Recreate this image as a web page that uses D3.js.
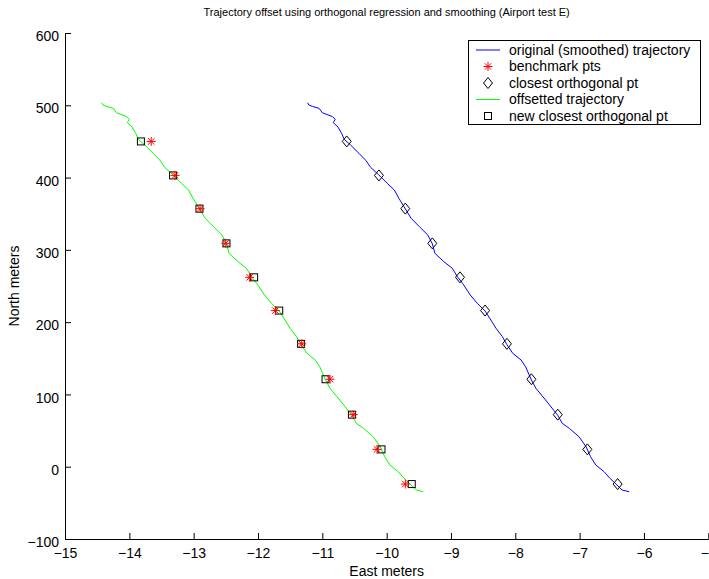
<!DOCTYPE html>
<html>
<head>
<meta charset="utf-8">
<script src="https://cdn.jsdelivr.net/npm/d3@7"></script>
<style>
  body { margin: 0; background: #fff; }
  svg text { font-family: "Liberation Sans", Arial, Helvetica, sans-serif; }
</style>
</head>
<body>
<div id="chart"></div>
<script>
// trajectory northing (shared by both trajectories)
const trajNorth = [503.5, 500.4, 498.3, 495.8, 489.7, 484.2, 480.6, 475.9, 470.3, 461.2,
  452.9, 445.0, 433.5, 423.3, 414.2, 403.5, 392.0, 382.8, 371.3, 359.7,
  343.6, 332.0, 320.5, 308.5, 295.2, 283.6, 274.5, 262.8, 253.7, 237.5,
  226.0, 215.4, 202.9, 191.5, 179.8, 168.8, 156.9, 147.6, 138.3, 119.9,
  108.5, 92.3, 71.1, 60.0, 53.1, 41.5, 27.7, 13.8, 2.4, -6.9,
  -16.0, -25.3, -32.2, -34.6];

// original (smoothed) trajectory easting
const origEast = [-11.23, -11.21, -11.15, -11.05, -11.00, -10.84, -10.80, -10.83, -10.76, -10.70,
  -10.66, -10.56, -10.43, -10.32, -10.25, -10.12, -9.99, -9.88, -9.81, -9.73,
  -9.62, -9.49, -9.36, -9.29, -9.25, -9.11, -8.98, -8.90, -8.82, -8.70,
  -8.59, -8.47, -8.38, -8.30, -8.20, -8.13, -8.04, -7.91, -7.84, -7.75,
  -7.68, -7.53, -7.34, -7.27, -7.16, -7.01, -6.90, -6.83, -6.75, -6.62,
  -6.53, -6.42, -6.34, -6.23];

// offsetted trajectory easting
const offsetEast = [-14.43, -14.41, -14.35, -14.25, -14.20, -14.04, -14.00, -14.03, -13.96, -13.90,
  -13.86, -13.76, -13.63, -13.52, -13.45, -13.32, -13.19, -13.08, -13.01, -12.93,
  -12.82, -12.69, -12.56, -12.49, -12.45, -12.31, -12.18, -12.10, -12.02, -11.90,
  -11.79, -11.67, -11.58, -11.50, -11.40, -11.33, -11.24, -11.11, -11.04, -10.95,
  -10.88, -10.73, -10.54, -10.47, -10.36, -10.21, -10.10, -10.03, -9.95, -9.82,
  -9.73, -9.62, -9.54, -9.43];

// points
const ptNorth = [450, 403, 357, 309, 262, 216, 170, 121, 72, 24, -24];
const benchEast = [-13.66, -13.29, -12.90, -12.50, -12.13, -11.73, -11.32, -10.88, -10.52, -10.15, -9.71];
const closestEast = [-10.62, -10.12, -9.71, -9.29, -8.86, -8.47, -8.13, -7.75, -7.34, -6.88, -6.41];
const newClosestEast = [-13.82, -13.32, -12.91, -12.49, -12.06, -11.67, -11.33, -10.95, -10.54, -10.08, -9.61];

const xTicks = [-15, -14, -13, -12, -11, -10, -9, -8, -7, -6, -5];
const yTicks = [-100, 0, 100, 200, 300, 400, 500, 600];

const legendLabels = ["original (smoothed) trajectory", "benchmark pts", "closest orthogonal pt",
  "offsetted trajectory", "new closest orthogonal pt"];

const width = 709, height = 579;
const margin = { top: 33, right: 1, bottom: 40, left: 65 };

const svg = d3.select("#chart").append("svg")
  .attr("width", width)
  .attr("height", height);

const x = d3.scaleLinear().domain([-15, -5]).range([margin.left, 708.3]);
const y = d3.scaleLinear().domain([-100, 600]).range([539, margin.top]);

// axes (MATLAB style, inward ticks, no box)
const xAxis = d3.axisBottom(x).tickValues(xTicks).tickSizeInner(-6).tickSizeOuter(0).tickPadding(8);
const yAxis = d3.axisLeft(y).tickValues(yTicks).tickSizeInner(-6).tickSizeOuter(0).tickPadding(6);

const gx = svg.append("g").attr("transform", `translate(0,${y(-100)})`).call(xAxis);
const gy = svg.append("g").attr("transform", `translate(${x(-15)},0)`).call(yAxis);

[gx, gy].forEach(g => {
  g.selectAll("text").style("font-size", "14px").attr("fill", "#000");
  g.selectAll("line, path").attr("stroke", "#000");
});
gy.selectAll("text").attr("dy", "0.55em");
gx.selectAll("text").attr("dy", "0.8em");

// labels
svg.append("text")
  .attr("x", (x(-15) + x(-5)) / 2)
  .attr("y", 16)
  .attr("text-anchor", "middle")
  .style("font-size", "11px")
  .text("Trajectory offset using orthogonal regression and smoothing (Airport test E)");

svg.append("text")
  .attr("x", (x(-15) + x(-5)) / 2)
  .attr("y", 576)
  .attr("text-anchor", "middle")
  .style("font-size", "14px")
  .text("East meters");

svg.append("text")
  .attr("transform", `translate(19,${(y(-100) + y(600)) / 2}) rotate(-90)`)
  .attr("text-anchor", "middle")
  .style("font-size", "14px")
  .text("North meters");

// lines
const line = d3.line().x(d => x(d[0])).y(d => y(d[1]));

svg.append("path")
  .datum(origEast.map((e, i) => [e, trajNorth[i]]))
  .attr("d", line)
  .attr("fill", "none")
  .attr("stroke", "#0000ff")
  .attr("stroke-width", 1);

svg.append("path")
  .datum(offsetEast.map((e, i) => [e, trajNorth[i]]))
  .attr("d", line)
  .attr("fill", "none")
  .attr("stroke", "#00ff00")
  .attr("stroke-width", 1);

// marker shapes
function star(g, cx, cy, r) {
  const d = r * 0.72;
  g.append("path")
    .attr("d", `M${cx - r},${cy}H${cx + r}M${cx},${cy - r}V${cy + r}` +
      `M${cx - d},${cy - d}L${cx + d},${cy + d}M${cx - d},${cy + d}L${cx + d},${cy - d}`)
    .attr("stroke", "#ff0000")
    .attr("stroke-width", 1)
    .attr("fill", "none");
}
function diamond(g, cx, cy) {
  g.append("path")
    .attr("d", `M${cx},${cy - 5.5}L${cx + 4.5},${cy}L${cx},${cy + 5.5}L${cx - 4.5},${cy}Z`)
    .attr("stroke", "#000")
    .attr("stroke-width", 1)
    .attr("fill", "none");
}
function square(g, cx, cy) {
  g.append("rect")
    .attr("x", cx - 3.5).attr("y", cy - 3.5)
    .attr("width", 7).attr("height", 7)
    .attr("stroke", "#000")
    .attr("stroke-width", 1)
    .attr("fill", "none");
}

const marks = svg.append("g");
closestEast.forEach((e, i) => diamond(marks, x(e), y(ptNorth[i])));
newClosestEast.forEach((e, i) => square(marks, x(e), y(ptNorth[i])));
benchEast.forEach((e, i) => star(marks, x(e), y(ptNorth[i]), 4.5));

// legend
const legend = svg.append("g");
legend.append("rect")
  .attr("x", 468.5).attr("y", 40.5)
  .attr("width", 232).attr("height", 84)
  .attr("fill", "#fff")
  .attr("stroke", "#000")
  .attr("stroke-width", 1);

const rowY = i => 50 + i * 16.5;
legendLabels.forEach((lab, i) => {
  legend.append("text")
    .attr("x", 509)
    .attr("y", rowY(i))
    .attr("dy", "0.35em")
    .style("font-size", "14px")
    .text(lab);
});
legend.append("line").attr("x1", 476).attr("x2", 500).attr("y1", rowY(0)).attr("y2", rowY(0))
  .attr("stroke", "#0000ff");
star(legend, 488, rowY(1), 4.5);
diamond(legend, 488, rowY(2));
legend.append("line").attr("x1", 476).attr("x2", 500).attr("y1", rowY(3)).attr("y2", rowY(3))
  .attr("stroke", "#00ff00");
square(legend, 488, rowY(4));
</script>
</body>
</html>
